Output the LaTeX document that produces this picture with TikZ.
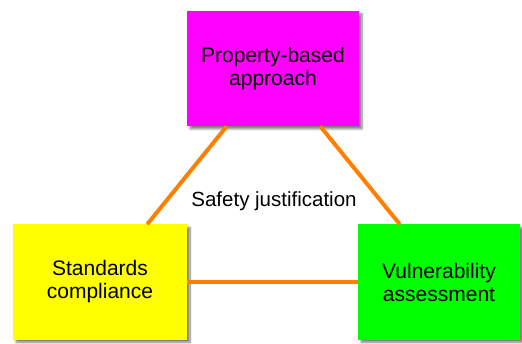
\documentclass[tikz,border=0pt]{standalone}
\usepackage{fontspec}
\setmainfont{Liberation Sans}
\usetikzlibrary{calc,shadows.blur}

\tikzset{
	box/.style={rectangle, minimum width=#1, minimum height=115pt, inner sep=0pt, align=center,
		font=\fontsize{21}{23}\selectfont, blur shadow={shadow xshift=3pt, shadow yshift=-3pt, shadow blur steps=6, shadow opacity=50}},
	link/.style={line width=4pt, draw={rgb,255:red,255;green,128;blue,0}}
}

\begin{document}
\begin{tikzpicture}[x=1pt,y=1pt]
\useasboundingbox (0,0) rectangle (522,343);

\node[box=172pt, fill={rgb,255:red,255;green,0;blue,255}] (prop) at (273,274.5) {Property-based\\approach};
\node[box=174pt, fill={rgb,255:red,255;green,255;blue,0}] (std) at (100,61) {Standards\\compliance};
\node[box=162pt, fill={rgb,255:red,0;green,255;blue,0}] (vul) at (439,61) {Vulnerability\\assessment};

\node[font=\fontsize{20.5}{23}\selectfont] (just) at (274,142) {Safety justification};

\draw[link] ($(prop.south west)+(40,0)$)--($(std.north east)+(-40,0)$);
\draw[link] ($(prop.south east)+(-39,0)$)--($(vul.north west)+(42,0)$);
\draw[link] (std.east)--(vul.west);

\end{tikzpicture}
\end{document}
